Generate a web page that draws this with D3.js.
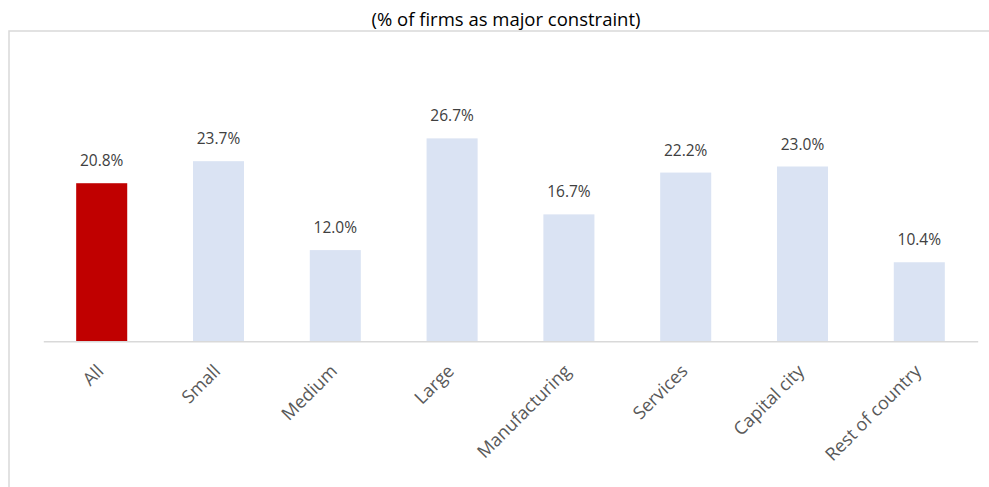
<!DOCTYPE html>
<html>
<head>
<meta charset="utf-8">
<script src="https://cdn.jsdelivr.net/npm/d3@7"></script>
<style>
  html, body { margin: 0; padding: 0; background: #fff; }
  svg { display: block; font-family: "Open Sans", "Noto Sans", sans-serif; }
</style>
</head>
<body>
<svg id="chart" width="989" height="487"></svg>
<script>
// Share of firms reporting this as a major constraint, by firm group
const categories = ["All", "Small", "Medium", "Large", "Manufacturing", "Services", "Capital city", "Rest of country"];
const values = [20.8, 23.7, 12.0, 26.7, 16.7, 22.2, 23.0, 10.4];
const highlight = ["All"];
const titleText = "(% of firms as major constraint)";

const svg = d3.select("#chart");
const W = 989, H = 487;

// Chart-area frame (runs off the right and bottom edges)
svg.append("rect")
  .attr("x", 9).attr("y", 31)
  .attr("width", W + 10).attr("height", H + 10)
  .attr("fill", "none")
  .attr("stroke", "#d9d9d9")
  .attr("stroke-width", 1.5);

svg.append("text")
  .attr("x", 506).attr("y", 26)
  .attr("text-anchor", "middle")
  .attr("font-size", 18.5)
  .attr("fill", "#000")
  .text(titleText);

const x = d3.scaleBand()
  .domain(categories)
  .range([43.3, 977.7])
  .paddingInner(0.563)
  .paddingOuter(0.2815);

const baseY = 341.3;
const y = d3.scaleLinear().domain([0, 30]).range([baseY, baseY - 228]);

svg.selectAll("rect.bar")
  .data(categories)
  .join("rect")
  .attr("class", "bar")
  .attr("x", d => x(d))
  .attr("width", x.bandwidth())
  .attr("y", (d, i) => y(values[i]))
  .attr("height", (d, i) => y(0) - y(values[i]))
  .attr("fill", d => highlight.includes(d) ? "#C00000" : "#DAE3F3");

// Value labels above bars
svg.selectAll("text.val")
  .data(categories)
  .join("text")
  .attr("class", "val")
  .attr("x", d => x(d) + x.bandwidth() / 2)
  .attr("y", (d, i) => y(values[i]) - 17)
  .attr("text-anchor", "middle")
  .attr("font-size", 15.5)
  .attr("fill", "#404040")
  .text((d, i) => values[i].toFixed(1) + "%");

// Category axis
const axis = svg.append("g")
  .attr("transform", `translate(0,${baseY})`)
  .call(d3.axisBottom(x).tickSize(0).tickPadding(0));
axis.select(".domain")
  .attr("stroke", "#d9d9d9")
  .attr("stroke-width", 1.5);
axis.selectAll(".tick text")
  .attr("font-family", "\"Open Sans\", sans-serif")
  .attr("font-size", 18)
  .attr("fill", "#595959")
  .attr("text-anchor", "end")
  .attr("dy", 0)
  .attr("y", 0)
  .attr("transform", "translate(3,31) rotate(-45)");
</script>
</body>
</html>
